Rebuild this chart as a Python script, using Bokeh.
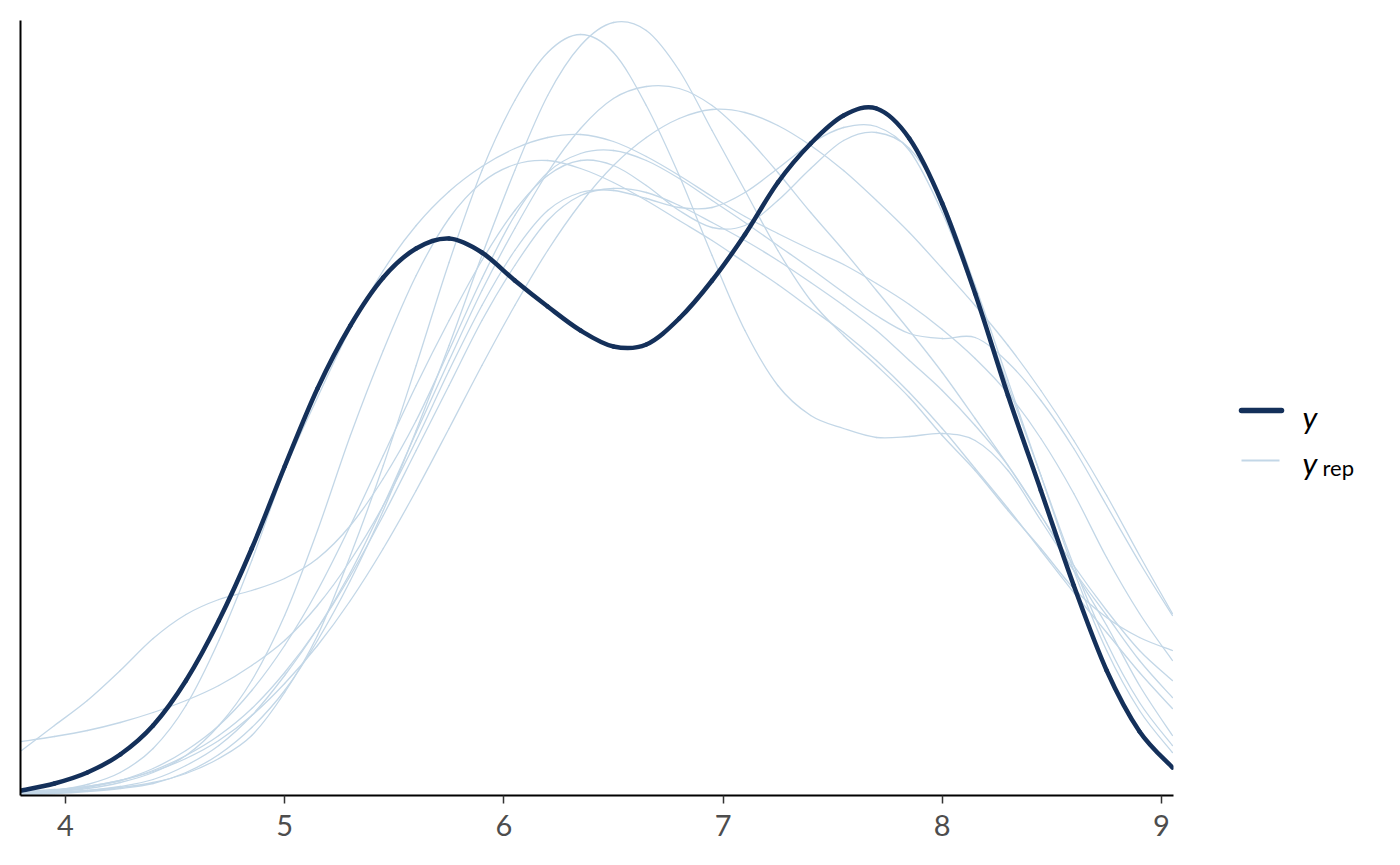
from bokeh.plotting import figure
from bokeh.models import Range1d, FixedTicker, ColumnDataSource
from bokeh.layouts import row
from bokeh.embed import file_html
from bokeh.resources import INLINE
from bokeh.core.properties import value

# ---- data (density estimates) ----
x_grid = [3.80, 3.95, 4.10, 4.25, 4.40, 4.55, 4.70, 4.85, 5.00, 5.15, 5.30, 5.45,
          5.60, 5.75, 5.90, 6.05, 6.20, 6.35, 6.50, 6.65, 6.80, 6.95, 7.10, 7.25,
          7.40, 7.55, 7.70, 7.85, 8.00, 8.15, 8.30, 8.45, 8.60, 8.75, 8.90, 9.05]

y_obs = [0.0025, 0.006, 0.0115, 0.0205, 0.035, 0.0575, 0.0875, 0.1235, 0.1645, 0.2035, 0.235, 0.259,
         0.2735, 0.2785, 0.2715, 0.2575, 0.2445, 0.2325, 0.2245, 0.2255, 0.2385, 0.2575, 0.2805, 0.3065,
         0.326, 0.34, 0.3435, 0.3285, 0.296, 0.251, 0.2, 0.1525, 0.105, 0.0625, 0.032, 0.014]

yrep_1 = [0.0005, 0.001, 0.002, 0.0035, 0.006, 0.0115, 0.0205, 0.034, 0.0525, 0.0775, 0.1075, 0.1425,
          0.1825, 0.225, 0.27, 0.3125, 0.35, 0.375, 0.3865, 0.3825, 0.3625, 0.3325, 0.3025, 0.2725,
          0.2475, 0.23, 0.215, 0.199, 0.18, 0.1625, 0.1425, 0.1235, 0.1035, 0.089, 0.079, 0.0725]
yrep_2 = [0.001, 0.0015, 0.0025, 0.004, 0.0065, 0.011, 0.0185, 0.03, 0.0515, 0.08, 0.12, 0.165,
          0.215, 0.2665, 0.3125, 0.3475, 0.3715, 0.3805, 0.3715, 0.345, 0.31, 0.27, 0.2325, 0.205,
          0.19, 0.1835, 0.179, 0.1795, 0.181, 0.1775, 0.1625, 0.1375, 0.1125, 0.09, 0.0675, 0.049]
yrep_3 = [0.001, 0.0015, 0.0025, 0.0045, 0.008, 0.015, 0.025, 0.04, 0.06, 0.0835, 0.1115, 0.145,
          0.1815, 0.2175, 0.2525, 0.2835, 0.3115, 0.3335, 0.3485, 0.3545, 0.3535, 0.345, 0.33, 0.3115,
          0.2915, 0.2725, 0.2525, 0.2325, 0.2115, 0.1885, 0.165, 0.14, 0.115, 0.0925, 0.0725, 0.0575]
yrep_4 = [0.002, 0.003, 0.0045, 0.0075, 0.012, 0.0185, 0.0275, 0.04, 0.056, 0.075, 0.0975, 0.1235,
          0.1525, 0.1835, 0.215, 0.245, 0.2725, 0.296, 0.315, 0.329, 0.3385, 0.343, 0.3415, 0.335,
          0.325, 0.3125, 0.2975, 0.2815, 0.2635, 0.245, 0.225, 0.2025, 0.1775, 0.15, 0.12, 0.091]
yrep_5 = [0.001, 0.0025, 0.0055, 0.0115, 0.0235, 0.045, 0.0775, 0.1175, 0.1625, 0.199, 0.2335, 0.2625,
          0.285, 0.302, 0.3145, 0.3235, 0.329, 0.3305, 0.327, 0.3195, 0.31, 0.2995, 0.2895, 0.281,
          0.273, 0.2655, 0.256, 0.2455, 0.233, 0.2185, 0.201, 0.1785, 0.151, 0.119, 0.091, 0.0675]
yrep_6 = [0.027, 0.0295, 0.0325, 0.0365, 0.0415, 0.0475, 0.055, 0.065, 0.0775, 0.095, 0.1175, 0.145,
          0.1775, 0.2125, 0.245, 0.2725, 0.2925, 0.3015, 0.3025, 0.2985, 0.294, 0.294, 0.3015, 0.3135,
          0.326, 0.334, 0.3345, 0.3225, 0.2915, 0.25, 0.205, 0.16, 0.115, 0.0765, 0.0465, 0.025]
yrep_7 = [0.001, 0.002, 0.004, 0.0075, 0.0135, 0.0225, 0.035, 0.0525, 0.075, 0.1025, 0.135, 0.17,
          0.205, 0.2375, 0.2675, 0.2925, 0.31, 0.3175, 0.315, 0.305, 0.2925, 0.284, 0.285, 0.2975,
          0.3135, 0.3275, 0.3315, 0.3235, 0.2975, 0.255, 0.2075, 0.16, 0.1125, 0.0725, 0.0425, 0.0215]
yrep_8 = [0.0225, 0.035, 0.0475, 0.0625, 0.0785, 0.0905, 0.098, 0.1025, 0.1085, 0.1185, 0.135, 0.1585,
          0.1875, 0.2225, 0.2585, 0.29, 0.3115, 0.321, 0.3225, 0.3175, 0.3085, 0.2975, 0.2865, 0.275,
          0.2635, 0.2515, 0.24, 0.231, 0.2285, 0.229, 0.2165, 0.1975, 0.1735, 0.145, 0.1165, 0.09]
yrep_9 = [0.0015, 0.0025, 0.0045, 0.0075, 0.0125, 0.02, 0.03, 0.0435, 0.0615, 0.0835, 0.11, 0.14,
          0.1725, 0.205, 0.2375, 0.265, 0.2875, 0.3, 0.3035, 0.3015, 0.295, 0.2865, 0.2775, 0.2675,
          0.2565, 0.245, 0.2325, 0.2175, 0.2025, 0.185, 0.165, 0.14, 0.1125, 0.085, 0.055, 0.03]
yrep_10 = [0.001, 0.002, 0.0035, 0.0065, 0.0115, 0.02, 0.035, 0.0575, 0.09, 0.1325, 0.18, 0.2225,
           0.26, 0.2885, 0.3065, 0.3155, 0.3175, 0.3135, 0.3065, 0.2975, 0.2875, 0.2775, 0.2665, 0.2555,
           0.2435, 0.2315, 0.2175, 0.2015, 0.1835, 0.1635, 0.1435, 0.1225, 0.1015, 0.0815, 0.0615, 0.0435]

x_ticks = [4, 5, 6, 7, 8, 9]
legend_labels = ["y", "y", "rep"]

yrep_all = [yrep_1, yrep_2, yrep_3, yrep_4, yrep_5, yrep_6, yrep_7, yrep_8, yrep_9, yrep_10]


def smooth_segments(xs, ys):
    """Cubic Bezier segments (Catmull-Rom handles) passing through every read point."""
    out = dict(x0=[], y0=[], x1=[], y1=[], cx0=[], cy0=[], cx1=[], cy1=[])
    n = len(xs)
    for i in range(n - 1):
        a = max(i - 1, 0)
        b = min(i + 2, n - 1)
        out["x0"].append(xs[i]); out["y0"].append(ys[i])
        out["x1"].append(xs[i + 1]); out["y1"].append(ys[i + 1])
        out["cx0"].append(xs[i] + (xs[i + 1] - xs[a]) / 6.0)
        out["cy0"].append(ys[i] + (ys[i + 1] - ys[a]) / 6.0)
        out["cx1"].append(xs[i + 1] - (xs[b] - xs[i]) / 6.0)
        out["cy1"].append(ys[i + 1] - (ys[b] - ys[i]) / 6.0)
    return out


# ---- styles ----
DARK = "#14305a"
LIGHT = "#c3d7e7"
FONT = "Lato"
H = 853
BORDER_TOP = 20
BORDER_BOTTOM = 58

p = figure(width=1198, height=H, x_range=Range1d(3.795, 9.055), y_range=Range1d(0, 0.3875),
           output_backend="svg", toolbar_location=None,
           min_border_left=20, min_border_top=BORDER_TOP, min_border_right=25,
           min_border_bottom=BORDER_BOTTOM)
p.outline_line_color = None
p.xgrid.visible = False
p.ygrid.visible = False
p.background_fill_color = "white"
p.border_fill_color = "white"

for yr in yrep_all:
    p.bezier(source=ColumnDataSource(smooth_segments(x_grid, yr)),
             x0="x0", y0="y0", x1="x1", y1="y1", cx0="cx0", cy0="cy0", cx1="cx1", cy1="cy1",
             line_color=LIGHT, line_width=1.3, line_cap="round")
p.bezier(source=ColumnDataSource(smooth_segments(x_grid, y_obs)),
         x0="x0", y0="y0", x1="x1", y1="y1", cx0="cx0", cy0="cy0", cx1="cx1", cy1="cy1",
         line_color=DARK, line_width=4.5, line_cap="round")

xa = p.xaxis[0]
xa.ticker = FixedTicker(ticks=x_ticks)
xa.axis_line_color = "black"
xa.axis_line_width = 2
xa.major_tick_out = 8
xa.major_tick_in = 0
xa.minor_tick_out = 0
xa.minor_tick_in = 0
xa.major_tick_line_color = "#333333"
xa.major_tick_line_width = 1.5
xa.major_label_text_font = FONT
xa.major_label_text_font_size = "29px"
xa.major_label_text_color = "#4d4d4d"
xa.major_label_standoff = 11

ya = p.yaxis[0]
ya.ticker = FixedTicker(ticks=[])
ya.axis_line_color = "black"
ya.axis_line_width = 2
ya.major_tick_out = 0
ya.major_tick_in = 0
ya.minor_tick_out = 0
ya.minor_tick_in = 0
ya.major_label_text_font_size = "0px"
ya.major_label_standoff = 0

# ---- legend panel (coordinates in page pixels) ----
lg = figure(width=200, height=H, x_range=Range1d(1198, 1398), y_range=Range1d(795, 20),
            output_backend="svg", toolbar_location=None, x_axis_type=None, y_axis_type=None,
            min_border_left=0, min_border_right=0, min_border_top=BORDER_TOP,
            min_border_bottom=BORDER_BOTTOM)
lg.outline_line_color = None
lg.xgrid.visible = False
lg.ygrid.visible = False
lg.background_fill_color = "white"
lg.border_fill_color = "white"
lg.line([1241, 1281], [410, 410], line_color=DARK, line_width=5.5, line_cap="round")
lg.line([1241, 1279], [460, 460], line_color=LIGHT, line_width=1.8)
lg.text(x=[1302, 1302], y=[416, 462], text=legend_labels[:2], text_font=value(FONT),
        text_font_style="italic", text_font_size="31px", text_color="black",
        text_baseline="alphabetic")
lg.text(x=[1322], y=[467], text=legend_labels[2:], text_font=value(FONT),
        text_font_size="22px", text_color="black", text_baseline="alphabetic")

layout = row(p, lg, spacing=0)
open("out.html", "w").write(file_html(layout, INLINE))
